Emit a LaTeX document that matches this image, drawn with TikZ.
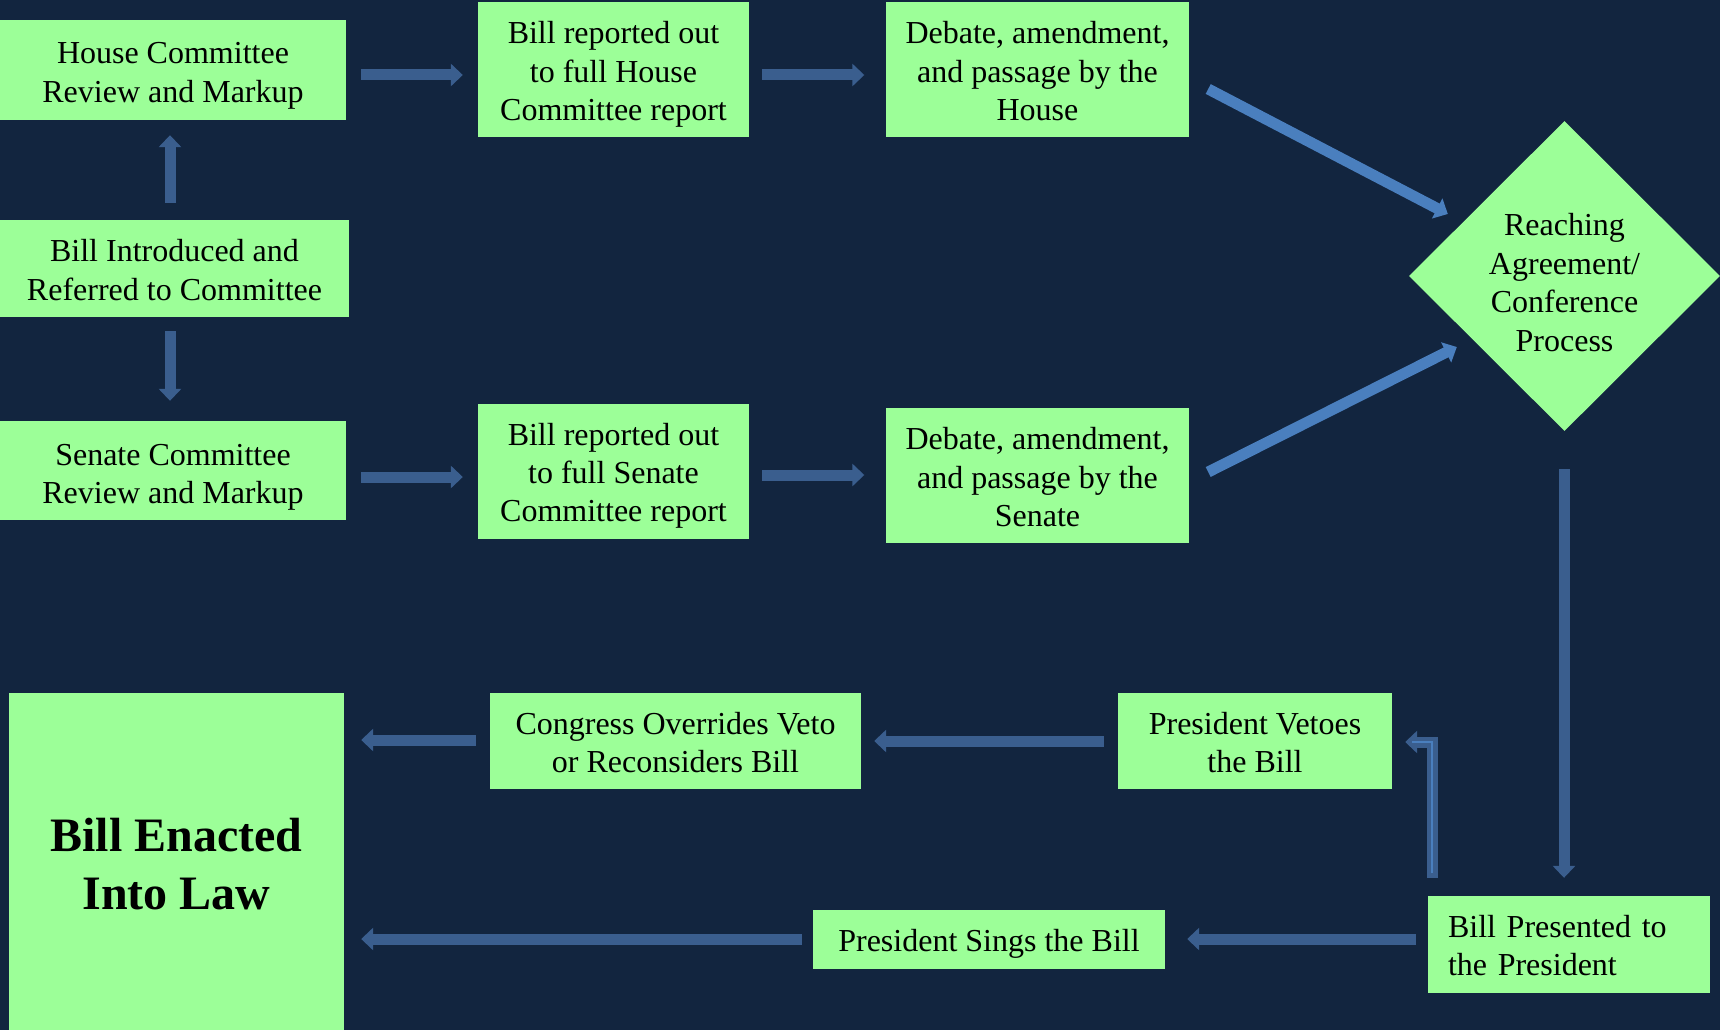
\documentclass[tikz,border=0pt]{standalone}
\usepackage{fontspec}
\setmainfont{Liberation Serif}
\usetikzlibrary{arrows.meta,shapes.geometric,calc}
\definecolor{bg}{HTML}{12253F}
\definecolor{boxg}{HTML}{9CFF98}
\definecolor{arr}{HTML}{3A5E8E}
\definecolor{arrb}{HTML}{4A7FBE}
\newcommand\ctxt[2]{\raisebox{-#1pt}[0pt][0pt]{\begin{tabular}{@{}c@{}}#2\end{tabular}}}
\newcommand\ltxt[2]{\raisebox{-#1pt}[0pt][0pt]{\begin{tabular}{@{}l@{}}#2\end{tabular}}}
\begin{document}
\begin{tikzpicture}[x=1pt,y=-1pt,
 box/.style={fill=boxg,inner sep=0pt,align=center,text=black,font=\fontsize{32}{38.4}\selectfont},
 conn/.style={draw=arr,line width=11pt,-{Triangle[width=22pt,length=12pt]}},
 connb/.style={conn,draw=arrb}]
\fill[bg] (0,0) rectangle (1720,1030);
\useasboundingbox (0,0) rectangle (1720,1030);

\node[box,minimum width=346pt,minimum height=100pt] (hc) at (173,70) {\ctxt{11.4}{House Committee\\Review and Markup}};
\node[box,minimum width=271pt,minimum height=135pt] (rh) at (613.5,69.5) {\ctxt{11.3}{Bill reported out\\to full House\\Committee report}};
\node[box,minimum width=303pt,minimum height=135pt] (dh) at (1037.5,69.5) {\ctxt{11.3}{Debate, amendment,\\and passage by the\\House}};
\node[box,minimum width=349pt,minimum height=97pt] (bi) at (174.5,268.5) {\ctxt{10.9}{Bill Introduced and\\Referred to Committee}};
\node[box,minimum width=346pt,minimum height=99pt] (sc) at (173,470.5) {\ctxt{12.3}{Senate Committee\\Review and Markup}};
\node[box,minimum width=271pt,minimum height=135pt] (rs) at (613.5,471.5) {\ctxt{10.5}{Bill reported out\\to full Senate\\Committee report}};
\node[box,minimum width=303pt,minimum height=135pt] (ds) at (1037.5,475.5) {\ctxt{11.2}{Debate, amendment,\\and passage by the\\Senate}};
\node[box,diamond,minimum width=311pt,minimum height=310pt] (dia) at (1564.5,276) {\ctxt{16}{Reaching\\Agreement/\\Conference\\Process}};
\node[box,minimum width=335pt,minimum height=337pt,font=\fontsize{48}{58}\selectfont\bfseries] (en) at (176.5,861.5) {\ctxt{13.8}{Bill Enacted\\Into Law}};
\node[box,minimum width=371pt,minimum height=96pt] (co) at (675.5,741) {\ctxt{11.2}{Congress Overrides Veto\\or Reconsiders Bill}};
\node[box,minimum width=274pt,minimum height=96pt] (pv) at (1255,741) {\ctxt{11.2}{President Vetoes\\the Bill}};
\node[box,minimum width=352pt,minimum height=59pt] (ps) at (989,939.5) {\ctxt{10.1}{President Sings the Bill}};
\node[box,align=left,text width=242pt,inner xsep=20pt,minimum height=97pt] (bp) at (1569,944.5) {\ltxt{10.8}{Bill Presented to\\the President}};

\draw[conn] ($(hc.east)+(15,5)$) -- ($(rh.west)+(-15,5.5)$);
\draw[conn] ($(rh.east)+(13,5.5)$) -- ($(dh.west)+(-21.5,5.5)$);
\draw[connb] ($(dh.east)+(19,19.5)$) -- ($(dia.west)+(39,-62)$);
\draw[conn] ($(bi.north)+(-4.5,-17)$) -- ($(hc.south)+(-3,15)$);
\draw[conn] ($(bi.south)+(-4.5,14)$) -- ($(sc.north)+(-3,-20)$);
\draw[conn] ($(sc.east)+(15,6.5)$) -- ($(rs.west)+(-15,5.5)$);
\draw[conn] ($(rs.east)+(13,3.5)$) -- ($(ds.west)+(-21.5,-0.5)$);
\draw[connb] ($(ds.east)+(19,-3.5)$) -- ($(dia.west)+(48,71)$);
\draw[conn] ($(dia.south)+(-0.5,38)$) -- ($(bp.north)+(-5,-18)$);
\draw[conn] ($(bp.west)+(-12,-5.5)$) -- ($(ps.east)+(22,-0.5)$);
\draw[conn] ($(ps.west)+(-11,-0.5)$) -- ($(en.east)+(17,77.5)$);
\draw[conn] ($(bp.north)+(-137,-18)$) |- ($(pv.east)+(13,1)$);
\draw[arrb,line width=2pt] ($(bp.north)+(-137,-23)$) |- ($(pv.east)+(20,1)$);
\draw[conn] ($(pv.west)+(-14,0)$) -- ($(co.east)+(13,0)$);
\draw[conn] ($(co.west)+(-14,-1)$) -- ($(en.east)+(17,-121.5)$);
\end{tikzpicture}
\end{document}
